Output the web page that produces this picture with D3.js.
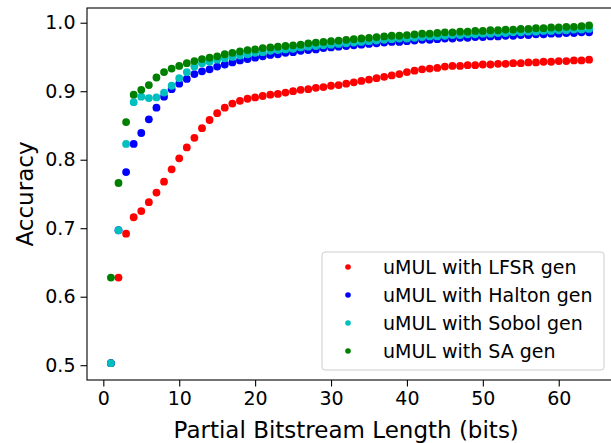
<!DOCTYPE html>
<html>
<head>
<meta charset="utf-8">
<script src="https://cdn.jsdelivr.net/npm/d3@7"></script>
<style>
  body { margin: 0; background: #fff; }
  text { font-family: "DejaVu Sans", sans-serif; fill: #000; }
</style>
</head>
<body>
<script>
// partial bitstream lengths 1..64
var bits = d3.range(1, 65);

var lfsr = [0.503, 0.628, 0.692, 0.716, 0.725, 0.738, 0.752, 0.768, 0.786, 0.802,
  0.818, 0.832, 0.846, 0.858, 0.868, 0.876, 0.882, 0.886, 0.889, 0.891,
  0.893, 0.895, 0.896, 0.898, 0.900, 0.902, 0.903, 0.905, 0.906, 0.908,
  0.909, 0.911, 0.913, 0.915, 0.917, 0.919, 0.921, 0.923, 0.925, 0.928,
  0.930, 0.932, 0.933, 0.934, 0.936, 0.937, 0.937, 0.938, 0.938, 0.939,
  0.939, 0.940, 0.940, 0.941, 0.941, 0.942, 0.942, 0.943, 0.943, 0.944,
  0.944, 0.945, 0.945, 0.946];

var halton = [0.503, 0.697, 0.782, 0.823, 0.839, 0.859, 0.876, 0.892, 0.903, 0.911,
  0.918, 0.925, 0.929, 0.932, 0.936, 0.939, 0.942, 0.945, 0.947, 0.949,
  0.951, 0.953, 0.954, 0.956, 0.957, 0.959, 0.960, 0.961, 0.963, 0.964,
  0.965, 0.966, 0.967, 0.968, 0.969, 0.970, 0.971, 0.972, 0.972, 0.973,
  0.974, 0.975, 0.975, 0.976, 0.977, 0.977, 0.978, 0.978, 0.979, 0.979,
  0.980, 0.980, 0.981, 0.981, 0.982, 0.982, 0.983, 0.983, 0.984, 0.984,
  0.985, 0.985, 0.986, 0.986];

var sobol = [0.503, 0.697, 0.823, 0.884, 0.892, 0.890, 0.891, 0.898, 0.908, 0.919,
  0.928, 0.936, 0.941, 0.943, 0.946, 0.948, 0.950, 0.952, 0.954, 0.956,
  0.957, 0.959, 0.960, 0.961, 0.962, 0.964, 0.965, 0.966, 0.967, 0.968,
  0.969, 0.970, 0.971, 0.972, 0.973, 0.974, 0.975, 0.976, 0.977, 0.977,
  0.978, 0.979, 0.980, 0.980, 0.981, 0.982, 0.982, 0.983, 0.983, 0.984,
  0.984, 0.985, 0.985, 0.986, 0.986, 0.987, 0.987, 0.988, 0.988, 0.989,
  0.989, 0.990, 0.990, 0.991];

var sa = [0.628, 0.766, 0.855, 0.895, 0.902, 0.909, 0.920, 0.928, 0.933, 0.937,
  0.941, 0.944, 0.947, 0.949, 0.951, 0.954, 0.956, 0.958, 0.960, 0.961,
  0.963, 0.964, 0.965, 0.966, 0.967, 0.968, 0.970, 0.971, 0.972, 0.973,
  0.974, 0.975, 0.976, 0.977, 0.978, 0.979, 0.980, 0.981, 0.981, 0.982,
  0.983, 0.984, 0.984, 0.985, 0.986, 0.986, 0.987, 0.987, 0.988, 0.988,
  0.989, 0.989, 0.990, 0.990, 0.991, 0.991, 0.992, 0.992, 0.993, 0.993,
  0.994, 0.994, 0.995, 0.996];

var seriesNames = ["uMUL with LFSR gen", "uMUL with Halton gen", "uMUL with Sobol gen", "uMUL with SA gen"];
var seriesColors = ["#ff0000", "#0000ff", "#00bfbf", "#008000"];
var seriesValues = [lfsr, halton, sobol, sa];

var xTicks = [0, 10, 20, 30, 40, 50, 60];
var yTicks = [0.5, 0.6, 0.7, 0.8, 0.9, 1.0];

var W = 611, H = 443;
var margin = {top: 8, right: -2, bottom: 63, left: 87},
    w = W - margin.left - margin.right,
    h = H - margin.top - margin.bottom;

var svg = d3.select("body")
            .append("svg")
            .attr("width", W)
            .attr("height", H);

var g = svg.append("g")
           .attr("transform", "translate(" + margin.left + "," + margin.top + ")");

/***Scales***/
var xScale = d3.scaleLinear()
               .domain([-2.15, 67.15])
               .range([0, w]);
var yScale = d3.scaleLinear()
               .domain([0.4784, 1.0215])
               .range([h, 0]);

/***Axes***/
var xAxis = d3.axisBottom(xScale)
              .tickValues(xTicks)
              .tickSize(6.5)
              .tickPadding(5)
              .tickFormat(d3.format("d"));
var yAxis = d3.axisLeft(yScale)
              .tickValues(yTicks)
              .tickSize(6.5)
              .tickPadding(5)
              .tickFormat(d3.format(".1f"));

var gx = g.append("g")
          .attr("transform", "translate(0," + h + ")")
          .call(xAxis);
var gy = g.append("g")
          .call(yAxis);
[gx, gy].forEach(function(a) {
  a.select(".domain").remove();
  a.selectAll(".tick line").attr("stroke", "#000").attr("stroke-width", 1.1);
  a.selectAll(".tick text")
   .style("font-family", "'DejaVu Sans', sans-serif")
   .style("font-size", "19px")
   .attr("fill", "#000");
});

/***Points***/
seriesValues.forEach(function(vals, i) {
  g.append("g")
   .selectAll("circle")
   .data(vals)
   .enter().append("circle")
     .attr("cx", function(d, j) { return xScale(bits[j]); })
     .attr("cy", function(d) { return yScale(d); })
     .attr("r", 3.9)
     .attr("fill", seriesColors[i]);
});

/***Frame***/
g.append("rect")
 .attr("x", 0).attr("y", 0)
 .attr("width", w).attr("height", h)
 .attr("fill", "none")
 .attr("stroke", "#000")
 .attr("stroke-width", 1.1);

/***Axis titles***/
svg.append("text")
   .attr("x", margin.left + xScale(32))
   .attr("y", 438)
   .attr("text-anchor", "middle")
   .style("font-size", "23px")
   .text("Partial Bitstream Length (bits)");
svg.append("text")
   .attr("transform", "translate(33," + (margin.top + h / 2) + ")rotate(-90)")
   .attr("text-anchor", "middle")
   .style("font-size", "23px")
   .text("Accuracy");

/***Legend***/
var lg = svg.append("g").attr("transform", "translate(322,252)");
lg.append("rect")
  .attr("width", 282).attr("height", 118)
  .attr("rx", 3)
  .attr("fill", "#fff").attr("fill-opacity", 0.8)
  .attr("stroke", "#cccccc").attr("stroke-width", 1);
seriesNames.forEach(function(name, i) {
  var yy = 15 + i * 28;
  lg.append("circle")
    .attr("cx", 26).attr("cy", yy)
    .attr("r", 2.8)
    .attr("fill", seriesColors[i]);
  lg.append("text")
    .attr("x", 61).attr("y", yy + 6.5)
    .style("font-size", "19px")
    .text(name);
});
</script>
</body>
</html>
